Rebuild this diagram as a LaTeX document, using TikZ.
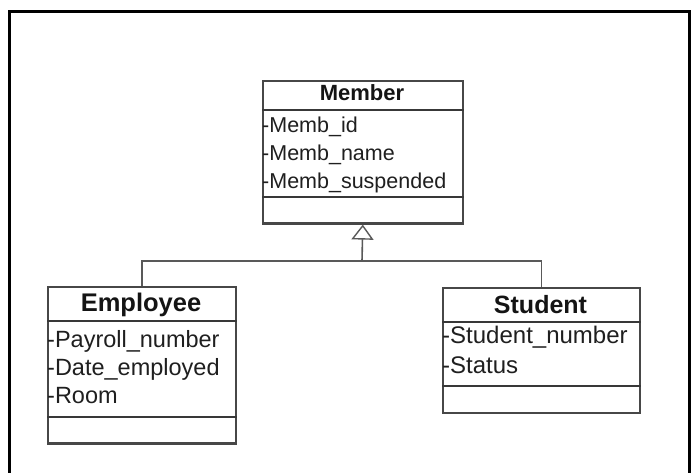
\documentclass[tikz,border=0pt]{standalone}
\usepackage{fontspec}
\setmainfont{Liberation Sans}
\usetikzlibrary{arrows.meta}
\begin{document}
\begin{tikzpicture}[x=1pt,y=-1pt,
  classbox/.style={draw=black!72, line width=1.6pt, fill=white, anchor=north west, inner sep=0pt},
  sepline/.style={draw=black!78, line width=1.5pt},
  baseedge/.style={draw=black!72, line width=2.6pt},
  attr/.style={anchor=base west, inner sep=0pt, text=black!88},
  ttl/.style={anchor=base, inner sep=0pt, font=\bfseries, text=black!92},
  conn/.style={draw=black!65, line width=1.6pt},
  frameline/.style={draw=black, line width=3pt}]
\useasboundingbox (0,0) rectangle (694,473);
% outer frame (bottom runs past the picture)
\begin{scope}
\clip (0,0) rectangle (694,473);
\draw[frameline] (9,490) -- (9,12) -- (689,12) -- (689,490);
\end{scope}
% Member
\node[classbox, minimum width=200pt, minimum height=142pt] (member) at (262,80) {};
\draw[sepline] (member.west |- 0,110) -- (member.east |- 0,110);
\draw[sepline] (member.west |- 0,197) -- (member.east |- 0,197);
\draw[baseedge] (member.south west) -- (member.south east);
\node[ttl, font=\bfseries\fontsize{22}{26}\selectfont] (mtitle) at (362,101) {Member};
\node[attr, font=\fontsize{21.5}{26}\selectfont] (m1) at (262,133) {-Memb\_id};
\node[attr, font=\fontsize{21.5}{26}\selectfont] (m2) at (262,161) {-Memb\_name};
\node[attr, font=\fontsize{21.5}{26}\selectfont] (m3) at (262,189) {-Memb\_suspended};
% Employee
\node[classbox, minimum width=188pt, minimum height=156pt] (employee) at (47,286) {};
\draw[sepline] (employee.west |- 0,321) -- (employee.east |- 0,321);
\draw[sepline] (employee.west |- 0,417) -- (employee.east |- 0,417);
\draw[baseedge] (employee.south west) -- (employee.south east);
\node[ttl, font=\bfseries\fontsize{25.5}{30}\selectfont] (etitle) at (141,312) {Employee};
\node[attr, font=\fontsize{23.5}{28}\selectfont] (e1) at (47,347) {-Payroll\_number};
\node[attr, font=\fontsize{23.5}{28}\selectfont] (e2) at (47,375) {-Date\_employed};
\node[attr, font=\fontsize{23.5}{28}\selectfont] (e3) at (47,403) {-Room};
% Student
\node[classbox, minimum width=197pt, minimum height=125pt] (student) at (442,287) {};
\draw[sepline] (student.west |- 0,322) -- (student.east |- 0,322);
\draw[sepline] (student.west |- 0,386) -- (student.east |- 0,386);
\node[ttl, font=\bfseries\fontsize{25}{30}\selectfont] (stitle) at (540.5,313) {Student};
\node[attr, font=\fontsize{24}{28}\selectfont] (s1) at (442,344) {-Student\_number};
\node[attr, font=\fontsize{24}{28}\selectfont] (s2) at (442,373) {-Status};
% generalisation
\coordinate (hub) at (362,261);
\draw[conn] (employee.north) |- (hub) -| (student.north);
\draw[conn, -{Triangle[open, width=22pt, length=15pt, line width=1.4pt]}, shorten >=1pt] (hub) -- (member.south);
\end{tikzpicture}
\end{document}
